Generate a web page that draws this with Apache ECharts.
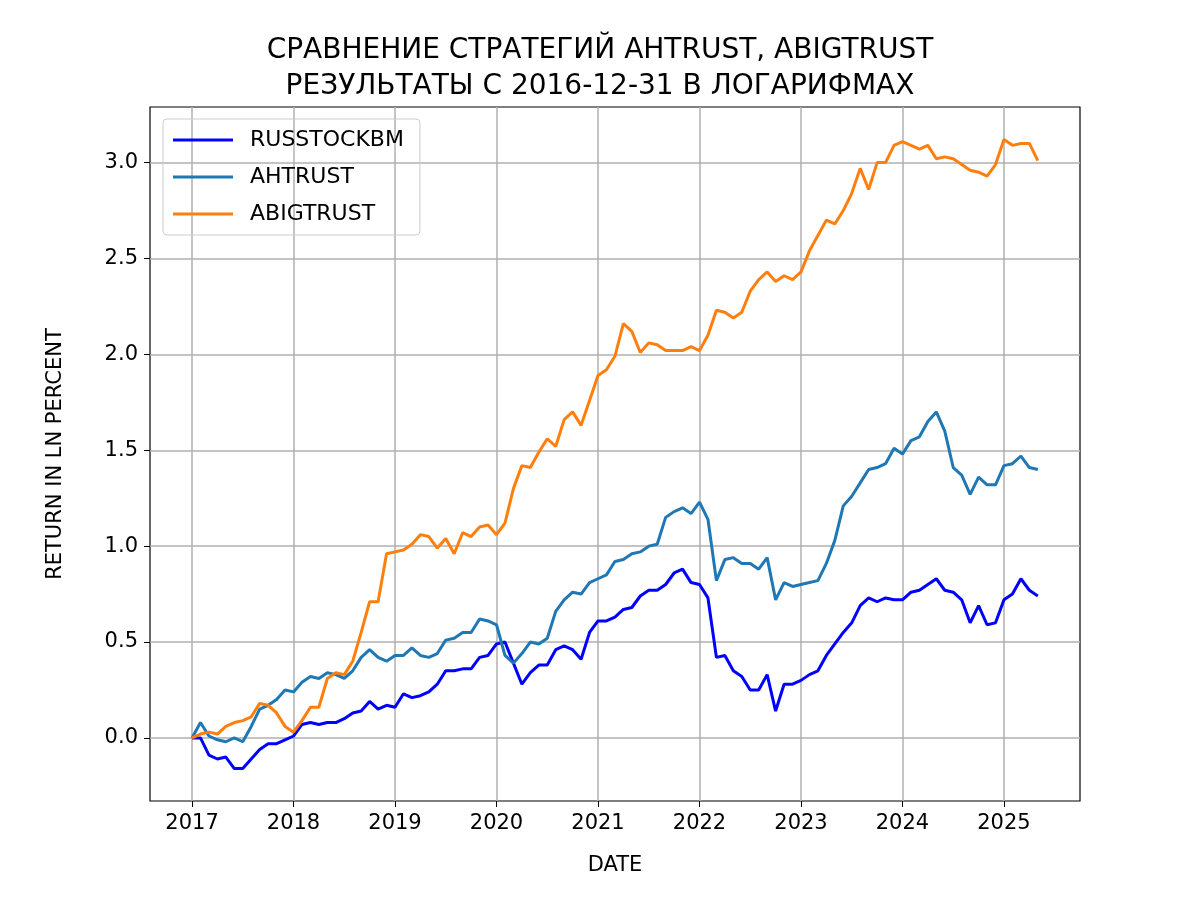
<!DOCTYPE html>
<html>
<head>
<meta charset="utf-8">
<script src="https://cdn.jsdelivr.net/npm/echarts@6/dist/echarts.min.js"></script>
<style>html,body{margin:0;padding:0;background:#fff}#chart{width:1200px;height:900px}</style>
</head>
<body>
<div id="chart"></div>
<script>
// месячные значения с декабря 2016 по апрель 2025
const russtockbm = [0,
  0.0,-0.09,-0.11,-0.10,-0.16,-0.16,-0.11,-0.06,-0.03,-0.03,-0.01,0.01,
  0.07,0.08,0.07,0.08,0.08,0.10,0.13,0.14,0.19,0.15,0.17,0.16,
  0.23,0.21,0.22,0.24,0.28,0.35,0.35,0.36,0.36,0.42,0.43,0.49,
  0.50,0.39,0.28,0.34,0.38,0.38,0.46,0.48,0.46,0.41,0.55,0.61,
  0.61,0.63,0.67,0.68,0.74,0.77,0.77,0.80,0.86,0.88,0.81,0.80,
  0.73,0.42,0.43,0.35,0.32,0.25,0.25,0.33,0.14,0.28,0.28,0.30,
  0.33,0.35,0.43,0.49,0.55,0.60,0.69,0.73,0.71,0.73,0.72,0.72,
  0.76,0.77,0.80,0.83,0.77,0.76,0.72,0.60,0.69,0.59,0.60,0.72,
  0.75,0.83,0.77,0.74];
const ahtrust = [0,
  0.08,0.01,-0.01,-0.02,0.00,-0.02,0.06,0.15,0.17,0.20,0.25,0.24,
  0.29,0.32,0.31,0.34,0.33,0.31,0.35,0.42,0.46,0.42,0.40,0.43,
  0.43,0.47,0.43,0.42,0.44,0.51,0.52,0.55,0.55,0.62,0.61,0.59,
  0.43,0.39,0.44,0.50,0.49,0.52,0.66,0.72,0.76,0.75,0.81,0.83,
  0.85,0.92,0.93,0.96,0.97,1.00,1.01,1.15,1.18,1.20,1.17,1.23,
  1.14,0.82,0.93,0.94,0.91,0.91,0.88,0.94,0.72,0.81,0.79,0.80,
  0.81,0.82,0.91,1.03,1.21,1.26,1.33,1.40,1.41,1.43,1.51,1.48,
  1.55,1.57,1.65,1.70,1.60,1.41,1.37,1.27,1.36,1.32,1.32,1.42,
  1.43,1.47,1.41,1.40];
const abigtrust = [0,
  0.02,0.03,0.02,0.06,0.08,0.09,0.11,0.18,0.17,0.13,0.06,0.03,
  0.09,0.16,0.16,0.31,0.34,0.33,0.40,0.55,0.71,0.71,0.96,0.97,
  0.98,1.01,1.06,1.05,0.99,1.04,0.96,1.07,1.05,1.10,1.11,1.06,
  1.12,1.30,1.42,1.41,1.49,1.56,1.52,1.66,1.70,1.63,1.76,1.89,
  1.92,1.99,2.16,2.12,2.01,2.06,2.05,2.02,2.02,2.02,2.04,2.02,
  2.10,2.23,2.22,2.19,2.22,2.33,2.39,2.43,2.38,2.41,2.39,2.43,
  2.54,2.62,2.70,2.68,2.75,2.84,2.97,2.86,3.00,3.00,3.09,3.11,
  3.09,3.07,3.09,3.02,3.03,3.02,2.99,2.96,2.95,2.93,2.99,3.12,
  3.09,3.10,3.10,3.01];
const yearTicks = [2017,2018,2019,2020,2021,2022,2023,2024,2025];
const yTicks = [0,0.5,1,1.5,2,2.5,3];

// x — год в десятичном виде, декабрь 2016 = 2017.0
const pts = arr => arr.map((v, i) => [2017 + i / 12, v]);

const chart = echarts.init(document.getElementById('chart'));
const font = 'DejaVu Sans';
chart.setOption({
  animation: false,
  textStyle: {fontFamily: font},
  title: {
    text: 'СРАВНЕНИЕ СТРАТЕГИЙ AHTRUST, ABIGTRUST\nРЕЗУЛЬТАТЫ С 2016-12-31 В ЛОГАРИФМАХ',
    left: 'center', top: 28,
    textStyle: {fontFamily: font, fontSize: 28, fontWeight: 'normal', color: '#000', lineHeight: 36}
  },
  legend: {
    orient: 'vertical', left: 163, top: 119,
    padding: [10, 16, 10, 10], itemGap: 15,
    itemWidth: 60, itemHeight: 3,
    borderColor: '#ccc', borderWidth: 1, borderRadius: 4,
    icon: 'rect',
    textStyle: {fontFamily: font, fontSize: 22, color: '#000', padding: [0, 0, 0, 12]},
    data: ['RUSSTOCKBM', 'AHTRUST', 'ABIGTRUST']
  },
  grid: {left: 150, right: 120, top: 107, bottom: 99, show: true, borderColor: '#000', borderWidth: 1.2},
  xAxis: {
    type: 'value', min: 2016.586, max: 2025.749,
    name: 'DATE', nameLocation: 'middle', nameGap: 54,
    nameTextStyle: {fontFamily: font, fontSize: 21, color: '#000'},
    axisLine: {show: false, onZero: false},
    axisTick: {show: true, length: 6, customValues: yearTicks, lineStyle: {color: '#000'}},
    axisLabel: {customValues: yearTicks, fontSize: 21, color: '#000', margin: 12, formatter: v => String(Math.round(v))},
    splitLine: {show: true, lineStyle: {color: '#b0b0b0', width: 1.5}}
  },
  yAxis: {
    type: 'value', min: -0.329, max: 3.29,
    name: 'RETURN IN LN PERCENT', nameLocation: 'middle', nameGap: 84,
    nameTextStyle: {fontFamily: font, fontSize: 21, color: '#000'},
    axisLine: {show: false, onZero: false},
    axisTick: {show: true, length: 6, customValues: yTicks, lineStyle: {color: '#000'}},
    axisLabel: {customValues: yTicks, fontSize: 21, color: '#000', margin: 12, formatter: v => v.toFixed(1)},
    splitLine: {show: true, lineStyle: {color: '#b0b0b0', width: 1.5}}
  },
  series: [
    {name: 'RUSSTOCKBM', type: 'line', data: pts(russtockbm), showSymbol: false, color: '#0000ff', lineStyle: {width: 3}},
    {name: 'AHTRUST', type: 'line', data: pts(ahtrust), showSymbol: false, color: '#1f77b4', lineStyle: {width: 3}},
    {name: 'ABIGTRUST', type: 'line', data: pts(abigtrust), showSymbol: false, color: '#ff7f0e', lineStyle: {width: 3}}
  ]
});
</script>
</body>
</html>
